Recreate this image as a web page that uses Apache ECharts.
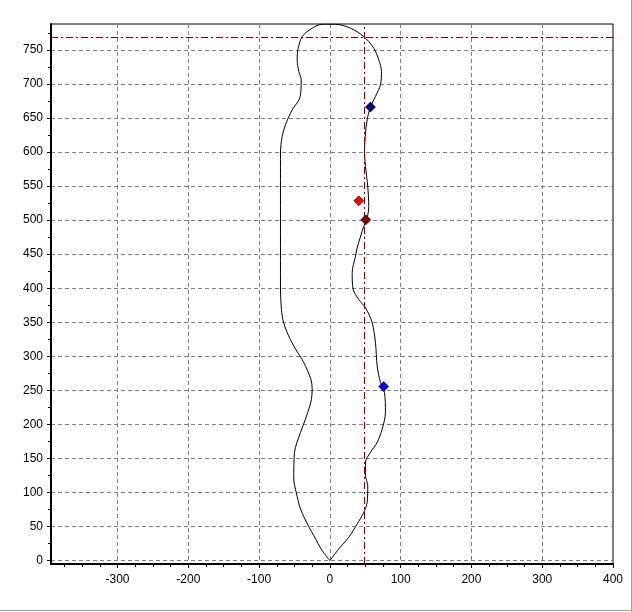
<!DOCTYPE html>
<html><head><meta charset="utf-8">
<script src="https://cdn.jsdelivr.net/npm/echarts@6/dist/echarts.min.js"></script>
<style>html,body{margin:0;padding:0;background:#fff}#c{width:632px;height:612px}</style>
</head><body><div id="c"></div>
<script>
// Outline of the shape (x, y), traced counter-clockwise from origin
const outlineX = [0, -10.9, -22.7, -29.8, -41.5, -47.6, -51, -50, -41.5, -34.5, -28.4, -26, -25, -26.8, -36.9, -51, -60.3, -66.5, -68.8, -69.8, -69.8, -69.8, -67.4, -62.7, -53.2, -42.5, -40.5, -43.9, -46.2, -45.3, -39.1, -25, -10.9, 7.9, 29.1, 47.9, 62, 69.1, 72.9, 71.5, 64.4, 57.3, 52.7, 50.3, 48.9, 50.3, 53.5, 54.9, 52.7, 47.9, 38.6, 36.2, 31.5, 32.9, 40.8, 50.3, 59.7, 64.4, 66.8, 71.5, 77.1, 78.5, 73.9, 66.8, 57.3, 50.3, 50.3, 53.5, 52.7, 47.9, 38.6, 26.7, 12.6, 0];
const outlineY = [0, 14.7, 36.6, 49.8, 75.8, 100.3, 119.8, 158.9, 188.2, 207.7, 227.2, 237, 251.7, 266.3, 290.8, 315.2, 334.8, 354.3, 373.8, 403.1, 559.5, 598.6, 623, 640.1, 662.1, 679.3, 706.1, 718.3, 735.4, 750, 769.6, 781.9, 787.7, 787.7, 781.9, 769.6, 752.6, 735.4, 718.3, 698.8, 681.6, 666.1, 647.5, 628, 601, 579, 549.7, 520.4, 503.4, 491.1, 459.4, 447.1, 422.8, 398.3, 383.6, 371.4, 349.5, 320.1, 285.8, 261.5, 246.9, 217.5, 193.1, 173.6, 158.9, 144.2, 124.6, 109.9, 85.6, 70.9, 53.8, 34.3, 17.2, 0];

// Marker points
const pointX = [57.3, 76, 40.8, 50.7];
const pointY = [666, 255.6, 528.3, 500.4];

// Reference lines
const refLineX = 48.5;
const refLineY = 768;

// Axis ranges and tick labels
const xMin = -394, xMax = 400;
const yMin = -5, yMax = 788;
const xTicks = [-300, -200, -100, 0, 100, 200, 300, 400];
const yTicks = [0, 50, 100, 150, 200, 250, 300, 350, 400, 450, 500, 550, 600, 650, 700, 750];
const xMinorTicks = [-375, -350, -325, -275, -250, -225, -175, -150, -125, -75, -50, -25, 25, 50, 75, 125, 150, 175, 225, 250, 275, 325, 350, 375];
const yMinorTicks = [25, 75, 125, 175, 225, 275, 325, 375, 425, 475, 525, 575, 625, 675, 725, 775];

const pointColors = ['#000080', '#0000ff', '#ff0000', '#800000'];

const chart = echarts.init(document.getElementById('c'), null, {renderer: 'canvas'});
const font = {fontFamily: 'Liberation Sans, Arial, sans-serif', fontSize: 12, color: '#000'};

const outlineData = outlineX.map((x, i) => [x, outlineY[i]]);

const series = [{
  type: 'line',
  data: outlineData,
  symbol: 'none',
  smooth: 0.3,
  lineStyle: {color: '#000', width: 1},
  z: 3,
  animation: false,
  markLine: {
    silent: true,
    symbol: 'none',
    label: {show: false},
    lineStyle: {color: '#800000', width: 1, type: [7, 3, 2, 3], opacity: 1},
    data: [{xAxis: refLineX}, {yAxis: refLineY}]
  }
}];
pointX.forEach((x, i) => {
  series.push({
    type: 'scatter',
    data: [[x, pointY[i]]],
    symbol: 'diamond',
    symbolSize: 10,
    itemStyle: {color: pointColors[i], borderColor: '#000', borderWidth: 0.6, opacity: 1},
    z: 5,
    animation: false
  });
});

const split = {show: true, lineStyle: {color: '#808080', type: [4, 3], width: 1}};

chart.setOption({
  animation: false,
  backgroundColor: '#fff',
  grid: {left: 51, right: 19, top: 24, bottom: 48, show: true, borderColor: '#000', borderWidth: 1, containLabel: false},
  xAxis: [{
    type: 'value', min: xMin, max: xMax,
    axisLine: {show: true, onZero: false, lineStyle: {color: '#000', width: 2}},
    axisTick: {show: true, length: 4, customValues: xTicks, lineStyle: {color: '#000'}},
    axisLabel: Object.assign({margin: 10, customValues: xTicks}, font),
    splitLine: split
  }, {
    type: 'value', min: xMin, max: xMax, position: 'bottom',
    axisLine: {show: false, onZero: false},
    axisTick: {show: true, length: 3, customValues: xMinorTicks, lineStyle: {color: '#000'}},
    axisLabel: {show: false},
    splitLine: {show: false}
  }],
  yAxis: [{
    type: 'value', min: yMin, max: yMax,
    axisLine: {show: true, onZero: false, lineStyle: {color: '#000', width: 2}},
    axisTick: {show: true, length: 4, customValues: yTicks, lineStyle: {color: '#000'}},
    axisLabel: Object.assign({margin: 8, customValues: yTicks}, font),
    splitLine: split
  }, {
    type: 'value', min: yMin, max: yMax, position: 'left',
    axisLine: {show: false, onZero: false},
    axisTick: {show: true, length: 3, customValues: yMinorTicks, lineStyle: {color: '#000'}},
    axisLabel: {show: false},
    splitLine: {show: false}
  }],
  graphic: [
    {type: 'line', shape: {x1: 631.5, y1: 0, x2: 631.5, y2: 612}, style: {stroke: '#a0a0a0', lineWidth: 1}},
    {type: 'line', shape: {x1: 0, y1: 610.5, x2: 632, y2: 610.5}, style: {stroke: '#a0a0a0', lineWidth: 1}}
  ],
  series: series
});
</script></body></html>
